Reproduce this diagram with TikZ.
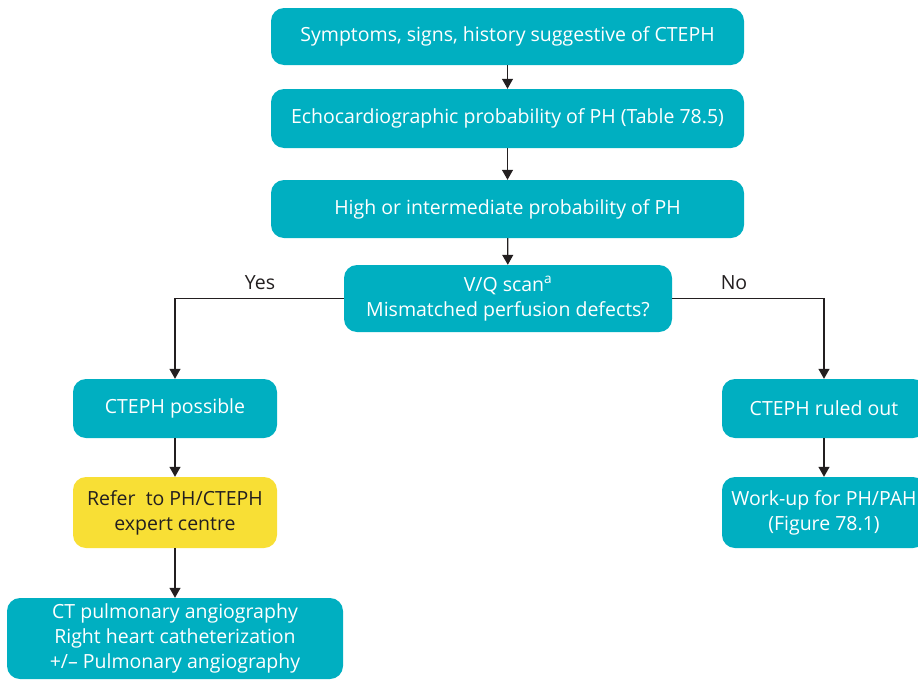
\documentclass[tikz,border=0pt]{standalone}
\usepackage{fontspec}
\setmainfont{Open Sans}
\usetikzlibrary{arrows.meta}
\definecolor{boxteal}{HTML}{00AFC1}
\definecolor{boxyellow}{HTML}{F8DF35}
\definecolor{ink}{HTML}{231F20}
\begin{document}
\begin{tikzpicture}[x=1pt,y=-1pt,
  box/.style={fill=boxteal, rounded corners=13pt, text=white, align=center,
    inner sep=0pt, font=\fontsize{19.5}{25}\selectfont},
  notebox/.style={box, fill=boxyellow, text=ink},
  arr/.style={draw=ink, line width=1.2pt, -{Triangle[length=10pt,width=11pt]}},
  lbl/.style={text=ink, font=\fontsize{19.5}{22}\selectfont}]
\useasboundingbox (0,0) rectangle (918,680);

% main column
\node[box, minimum width=473pt, minimum height=57pt] (sym) at (507.5,36.5)
  {Symptoms, signs, history suggestive of CTEPH};
\node[box, minimum width=473pt, minimum height=59pt] (echo) at (507.5,118.5)
  {Echocardiographic probability of PH (Table 78.5)};
\node[box, minimum width=473pt, minimum height=58pt] (prob) at (507.5,209)
  {High or intermediate probability of PH};
\node[box, minimum width=328pt, minimum height=67pt] (vq) at (508,298.5)
  {V/Q scan\textsuperscript{a}\\Mismatched perfusion defects?};

% yes branch
\node[box, minimum width=204pt, minimum height=59pt] (poss) at (175,408.5)
  {CTEPH possible};
\node[notebox, minimum width=204pt, minimum height=71pt] (refer) at (175,512.5)
  {Refer\ \ to PH/CTEPH\\expert centre};
\node[box, minimum width=336pt, minimum height=81pt] (ct) at (175,638.5)
  {CT pulmonary angiography\\Right heart catheterization\\+/– Pulmonary angiography};

% no branch
\node[box, minimum width=204pt, minimum height=59pt] (out) at (824,408.5)
  {CTEPH ruled out};
\node[box, minimum width=204pt, minimum height=71pt] (work) at (824,512.5)
  {Work-up for PH/PAH\\(Figure 78.1)};

% connectors
\draw[arr] (sym) -- (echo);
\draw[arr] (echo) -- (prob);
\draw[arr] (prob) -- (vq);
\draw[arr] (vq.west) -| (poss.north);
\draw[arr] (vq.east) -| (out.north);
\draw[arr] (poss) -- (refer);
\draw[arr] (refer) -- (ct);
\draw[arr] (out) -- (work);

\node[lbl] (yes) at (260,283) {Yes};
\node[lbl] (no) at (734,283) {No};
\end{tikzpicture}
\end{document}
